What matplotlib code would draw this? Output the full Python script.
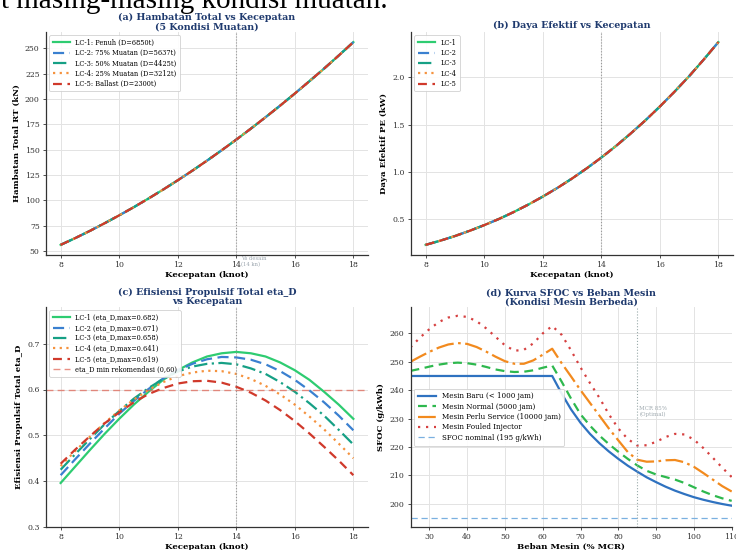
import matplotlib
matplotlib.use("Agg")
import matplotlib.pyplot as plt

# ---------------- data ----------------
speed = [8.0, 8.5, 9.0, 9.5, 10.0, 10.5, 11.0, 11.5, 12.0, 12.5, 13.0,
         13.5, 14.0, 14.5, 15.0, 15.5, 16.0, 16.5, 17.0, 17.5, 18.0]

rt_total = [56.0, 62.7, 69.8, 77.3, 85.1, 93.2, 101.7, 110.5, 119.7, 129.2, 139.1,
            149.3, 159.8, 170.7, 181.9, 193.4, 205.3, 217.5, 229.9, 242.8, 256.0]

pe_power = [0.230, 0.274, 0.323, 0.378, 0.438, 0.503, 0.575, 0.654, 0.739, 0.831, 0.930,
            1.037, 1.151, 1.273, 1.404, 1.542, 1.690, 1.846, 2.010, 2.186, 2.370]

lc_labels_a = ["LC-1: Penuh (D=6850t)", "LC-2: 75% Muatan (D=5637t)",
               "LC-3: 50% Muatan (D=4425t)", "LC-4: 25% Muatan (D=3212t)",
               "LC-5: Ballast (D=2300t)"]
lc_labels_b = ["LC-1", "LC-2", "LC-3", "LC-4", "LC-5"]
lc_labels_c = ["LC-1 (eta_D,max=0.682)", "LC-2 (eta_D,max=0.671)",
               "LC-3 (eta_D,max=0.658)", "LC-4 (eta_D,max=0.641)",
               "LC-5 (eta_D,max=0.619)"]

eta_lc1 = [0.396, 0.432, 0.468, 0.503, 0.536, 0.567, 0.595, 0.621, 0.642, 0.659, 0.672,
           0.679, 0.682, 0.679, 0.672, 0.659, 0.642, 0.621, 0.595, 0.567, 0.536]
eta_lc2 = [0.413, 0.448, 0.482, 0.515, 0.547, 0.575, 0.601, 0.624, 0.642, 0.656, 0.666,
           0.671, 0.670, 0.665, 0.655, 0.640, 0.621, 0.598, 0.572, 0.543, 0.511]
eta_lc3 = [0.425, 0.459, 0.492, 0.524, 0.553, 0.580, 0.603, 0.623, 0.639, 0.650, 0.656,
           0.658, 0.655, 0.646, 0.634, 0.616, 0.595, 0.570, 0.543, 0.512, 0.480]
eta_lc4 = [0.433, 0.466, 0.497, 0.527, 0.554, 0.578, 0.599, 0.616, 0.629, 0.637, 0.641,
           0.640, 0.634, 0.623, 0.608, 0.589, 0.567, 0.541, 0.513, 0.482, 0.450]
eta_lc5 = [0.438, 0.469, 0.498, 0.526, 0.550, 0.572, 0.590, 0.603, 0.613, 0.618, 0.619,
           0.615, 0.606, 0.593, 0.576, 0.555, 0.531, 0.504, 0.475, 0.445, 0.413]
eta_min = 0.60
v_design = 14

load = [25, 27.5, 30, 32.5, 35, 37.5, 40, 42.5, 45, 47.5, 50, 52.5, 55, 57.5, 60, 62.5,
        65, 67.5, 70, 72.5, 75, 77.5, 80, 82.5, 85, 87.5, 90, 92.5, 95, 97.5, 100,
        102.5, 105, 107.5, 110]
sfoc_new = [245, 245, 245, 245, 245, 245, 245, 245, 245, 245, 245, 245, 245, 245, 245, 245,
            238.8, 233.2, 228.5, 224.6, 221.3, 218.4, 215.8, 213.4, 211.3, 209.3, 207.6,
            206.0, 204.6, 203.4, 202.3, 201.4, 200.6, 199.9, 199.3]
sfoc_normal = [246.8, 247.5, 248.3, 249.0, 249.5, 249.7, 249.5, 249.0, 248.2, 247.3, 246.7,
               246.4, 246.5, 247.0, 247.9, 248.7,
               243.0, 237.0, 231.5, 227.5, 224.0, 221.0, 218.3, 215.8, 213.5, 211.6, 210.3,
               209.4, 208.5, 207.3, 205.8, 204.3, 203.0, 201.9, 201.0]
sfoc_service = [250.0, 251.8, 253.5, 255.0, 256.1, 256.6, 256.3, 255.2, 253.6, 251.8, 250.2,
                249.3, 249.3, 250.5, 252.5, 254.6,
                249.5, 244.8, 240.0, 235.5, 231.0, 226.5, 222.3, 218.2, 215.5, 214.8, 214.9,
                215.3, 215.4, 214.6, 213.0, 210.8, 208.5, 206.2, 204.3]
sfoc_fouled = [255.1, 258.5, 261.5, 264.0, 265.6, 266.2, 265.8, 264.3, 261.8, 258.8, 255.8,
               253.9, 254.2, 256.5, 260.0, 262.6,
               259.5, 254.0, 248.0, 242.5, 237.3, 231.5, 226.5, 222.8, 220.5, 220.6, 221.8,
               223.5, 224.6, 224.4, 222.6, 219.6, 216.2, 212.7, 209.4]
sfoc_nominal = 195
mcr_opt = 85

# ---------------- style ----------------
plt.rcParams['font.family'] = ['DejaVu Serif']
plt.rcParams['axes.edgecolor'] = '#333333'
plt.rcParams['axes.linewidth'] = 0.9
plt.rcParams['xtick.color'] = '#333333'
plt.rcParams['ytick.color'] = '#333333'

TICK_FS = 5.6
LAB_FS = 6.1
TIT_FS = 6.8
LEG_FS = 4.8
TITLE_COLOR = '#1f3a6e'

c_green = '#2ecc71'
c_blue = '#3a80d0'
c_teal = '#16a085'
c_orange = '#f5923e'
c_red = '#d0392b'

lc_styles = [
    dict(color=c_green, ls='-', lw=1.6),
    dict(color=c_blue, ls=(0, (5, 2.5)), lw=1.6),
    dict(color=c_teal, ls=(0, (6, 2, 1, 2)), lw=1.6),
    dict(color=c_orange, ls=(0, (1, 2)), lw=1.6),
    dict(color=c_red, ls=(0, (4, 2.5)), lw=1.6),
]

W, H = 736, 550
fig = plt.figure(figsize=(W / 100, H / 100), dpi=100)


def ax_at(l, r, t, b):
    return fig.add_axes([l / W, (H - b) / H, (r - l) / W, (b - t) / H])


def style(ax):
    ax.spines['top'].set_visible(False)
    ax.spines['right'].set_visible(False)
    ax.grid(True, color='#e3e3e3', lw=0.7)
    ax.set_axisbelow(True)
    ax.tick_params(labelsize=TICK_FS, length=2.5, width=0.6, pad=2)


def leg(ax, fs=LEG_FS, **kw):
    lg = ax.legend(fontsize=fs, frameon=True, fancybox=True, framealpha=0.9,
                   edgecolor='#cccccc', borderpad=0.5, labelspacing=0.35,
                   handlelength=2.6, **kw)
    lg.get_frame().set_linewidth(0.6)
    return lg


# document text above the figure (cropped)
fig.text(1 / W, 1 - 8.5 / H, "t masing-masing kondisi muatan.", fontsize=21.0,
         family=['Liberation Serif', 'DejaVu Serif'], va='baseline', ha='left')

# (a)
axa = ax_at(46, 368, 32, 255)
series_a = [rt_total] * 5
for lab, ys, st in zip(lc_labels_a, series_a, lc_styles):
    axa.plot(speed, ys, label=lab, **st)
axa.axvline(v_design, color='#999999', ls=':', lw=0.8)
axa.text(v_design + 0.15, 45.0, "Vs desain\n(14 kn)", fontsize=3.8, color='#9aa4ad',
         va='top', ha='left')
style(axa)
axa.set_xticks([8, 10, 12, 14, 16, 18])
axa.set_yticks([50, 75, 100, 125, 150, 175, 200, 225, 250])
axa.set_xlabel("Kecepatan (knot)", fontsize=LAB_FS, fontweight='bold', labelpad=1)
axa.set_ylabel("Hambatan Total RT (kN)", fontsize=LAB_FS, fontweight='bold', labelpad=3)
axa.set_title("(a) Hambatan Total vs Kecepatan\n(5 Kondisi Muatan)", fontsize=TIT_FS,
              fontweight='bold', color=TITLE_COLOR, pad=2, linespacing=1.0)
leg(axa, loc='upper left')

# (b)
axb = ax_at(411, 733, 32, 255)
series_b = [pe_power] * 5
for lab, ys, st in zip(lc_labels_b, series_b, lc_styles):
    axb.plot(speed, ys, label=lab, **st)
axb.axvline(v_design, color='#999999', ls=':', lw=0.8)
style(axb)
axb.set_xticks([8, 10, 12, 14, 16, 18])
axb.set_yticks([0.5, 1.0, 1.5, 2.0])
axb.set_xlabel("Kecepatan (knot)", fontsize=LAB_FS, fontweight='bold', labelpad=1)
axb.set_ylabel("Daya Efektif PE (kW)", fontsize=LAB_FS, fontweight='bold', labelpad=3)
axb.set_title("(b) Daya Efektif vs Kecepatan", fontsize=TIT_FS,
              fontweight='bold', color=TITLE_COLOR, pad=3)
leg(axb, loc='upper left')

# (c)
axc = ax_at(46, 368, 307, 527)
series_c = [eta_lc1, eta_lc2, eta_lc3, eta_lc4, eta_lc5]
for lab, ys, st in zip(lc_labels_c, series_c, lc_styles):
    axc.plot(speed, ys, label=lab, **st)
axc.axhline(eta_min, color='#e06050', ls=(0, (5, 3)), lw=1.0, alpha=0.7,
            label="eta_D min rekomendasi (0,60)")
axc.axvline(v_design, color='#999999', ls=':', lw=0.8)
style(axc)
axc.set_ylim(0.3, 0.78)
axc.set_xticks([8, 10, 12, 14, 16, 18])
axc.set_yticks([0.3, 0.4, 0.5, 0.6, 0.7])
axc.set_xlabel("Kecepatan (knot)", fontsize=LAB_FS, fontweight='bold', labelpad=1)
axc.set_ylabel("Efisiensi Propulsif Total eta_D", fontsize=LAB_FS, fontweight='bold',
               labelpad=3)
axc.set_title("(c) Efisiensi Propulsif Total eta_D\nvs Kecepatan", fontsize=TIT_FS,
              fontweight='bold', color=TITLE_COLOR, pad=2, linespacing=1.0)
leg(axc, loc='upper left')

# (d)
axd = ax_at(410.5, 731.7, 307, 527)
axd.plot(load, sfoc_new, color='#2f72c0', lw=1.6, label="Mesin Baru (< 1000 jam)")
axd.plot(load, sfoc_normal, color='#2eb84e', lw=1.6, ls=(0, (4, 2.5)),
         label="Mesin Normal (5000 jam)")
axd.plot(load, sfoc_service, color='#f28a1e', lw=1.6, ls=(0, (8, 2, 1.2, 2)),
         label="Mesin Perlu Service (10000 jam)")
axd.plot(load, sfoc_fouled, color='#d64040', lw=1.6, ls=(0, (1, 2.6)),
         label="Mesin Fouled Injector")
axd.axhline(sfoc_nominal, color='#7ab0e0', ls=(0, (5, 3)), lw=0.9,
            label="SFOC nominal (195 g/kWh)")
axd.axvline(mcr_opt, color='#99aaaa', ls=':', lw=0.8)
axd.text(mcr_opt + 0.6, 232.5, "MCR 85%\n(Optimal)", fontsize=4.0, color='#a0aab0',
         va='center', ha='left')
style(axd)
axd.set_xlim(25, 110)
axd.set_ylim(191.8, 269.3)
axd.set_xticks([30, 40, 50, 60, 70, 80, 90, 100, 110])
axd.set_yticks([200, 210, 220, 230, 240, 250, 260])
axd.set_xlabel("Beban Mesin (% MCR)", fontsize=LAB_FS, fontweight='bold', labelpad=1)
axd.set_ylabel("SFOC (g/kWh)", fontsize=LAB_FS, fontweight='bold', labelpad=3)
axd.set_title("(d) Kurva SFOC vs Beban Mesin\n(Kondisi Mesin Berbeda)", fontsize=TIT_FS,
              fontweight='bold', color=TITLE_COLOR, pad=2, linespacing=1.0)
leg(axd, fs=5.1, loc='center left', bbox_to_anchor=(0.0, 0.5))

fig.savefig("out.png", dpi=100)
